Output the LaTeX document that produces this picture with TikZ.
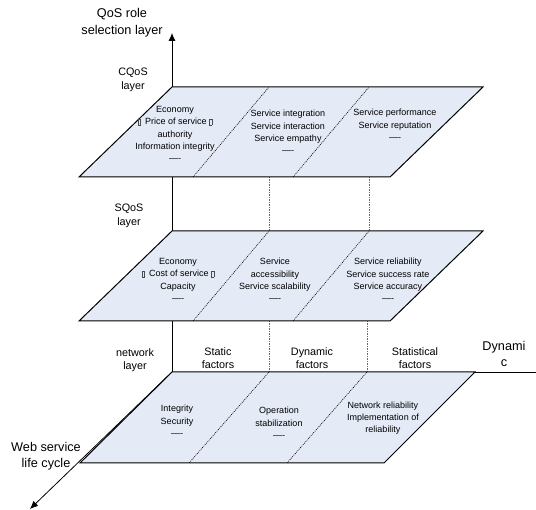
\documentclass[tikz,border=0pt]{standalone}
\usepackage{fontspec}
\setmainfont{Liberation Sans}
\usetikzlibrary{arrows.meta}
\definecolor{planefill}{RGB}{228,234,246}
\definecolor{guideblue}{RGB}{60,110,200}
\newcommand{\tofu}{{\color{black!70}\setlength{\fboxsep}{0pt}\setlength{\fboxrule}{0.3pt}\fbox{\rule{0pt}{5.5pt}\hspace{2pt}}}\hspace{4.5pt}}
\begin{document}
\begin{tikzpicture}[x=1pt, y=-1pt,
  plane/.style = {draw=black, line width=1pt, fill=planefill, line join=miter},
  divider/.style = {black, line width=0.6pt, dash pattern=on 1pt off 1pt},
  guide/.style = {guideblue, line width=0.6pt, dash pattern=on 1.5pt off 1pt},
  axis/.style = {line width=0.8pt, -{Latex[length=8pt,width=7pt]}},
  biglabel/.style = {align=center, inner sep=0pt, font=\fontsize{12.7}{16.5}\selectfont},
  midlabel/.style = {align=center, inner sep=0pt, font=\fontsize{10.8}{13.5}\selectfont},
  planetext/.style = {align=center, inner sep=0pt, font=\fontsize{9}{12.3}\selectfont}]

\useasboundingbox (0,0) rectangle (536,510);

% axes
\draw [axis] (172,372) -- (172,33);
\draw [axis] (172,372) -- (30,509);
\draw [line width=0.8pt] (172,372) -- (536,372);

% guide lines between the layers
\draw [guide] (269,177) -- (269,231);
\draw [guide] (369,177) -- (369,231);
\draw [guide] (269,321) -- (269,372);
\draw [guide] (367,321) -- (367,372);

% CQoS layer
\draw [plane] (172,87) -- (483,87) -- (390,177) -- (79,177) -- cycle;
\draw [divider] (193,177) -- (269,87);
\draw [divider] (293,177) -- (369,87);

% SQoS layer
\draw [plane] (172,231) -- (483,231) -- (390,321) -- (79,321) -- cycle;
\draw [divider] (193,321) -- (269,231);
\draw [divider] (293,321) -- (369,231);

% network layer
\draw [plane] (172,372) -- (475,372) -- (384,463) -- (80,463) -- cycle;
\draw [divider] (189,463) -- (269,372);
\draw [divider] (287,463) -- (367,372);

% axis and layer labels
\node [biglabel] (rolelabel) at (122,22.5) {QoS role\\selection layer};
\node [biglabel] (cyclelabel) at (46,456) {Web service\\life cycle};
\node [biglabel] (dynlabel) at (504,354) {Dynami\\c};
\node [midlabel] (cqoslabel) at (133,80) {CQoS\\layer};
\node [midlabel] (sqoslabel) at (129,216) {SQoS\\layer};
\node [midlabel] (netlabel) at (135,360) {network\\layer};
\node [midlabel] (staticlabel) at (218,358) {Static\\factors};
\node [midlabel] (dynamiclabel) at (312,358) {Dynamic\\factors};
\node [midlabel] (statlabel) at (415,358) {Statistical\\factors};

% CQoS texts
\node [planetext] (cqosA) at (175,134) {Economy\\\tofu Price of service \tofu\\authority\\Information integrity\\----};
\node [planetext] (cqosB) at (288,132) {Service integration\\Service interaction\\Service empathy\\----};
\node [planetext] (cqosC) at (395,125) {Service performance\\Service reputation\\----};

% SQoS texts
\node [planetext] (sqosA) at (178,280) {Economy\\\tofu Cost of service \tofu\\Capacity\\----};
\node [planetext] (sqosB) at (275,280) {Service\\accessibility\\Service scalability\\----};
\node [planetext] (sqosC) at (388,280) {Service reliability\\Service success rate\\Service accuracy\\----};

% network texts
\node [planetext] (netA) at (177,421) {Integrity\\Security\\----};
\node [planetext] (netB) at (279,423) {Operation\\stabilization\\----};
\node [planetext] (netC) at (383,418) {Network reliability\\Implementation of\\reliability};

\end{tikzpicture}
\end{document}
